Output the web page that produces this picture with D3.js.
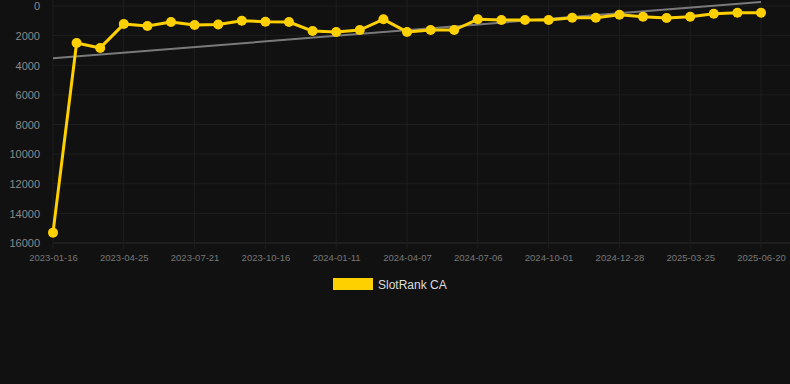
<!DOCTYPE html>
<html>
<head>
<meta charset="utf-8">
<script src="https://cdn.jsdelivr.net/npm/d3@7"></script>
<style>
    html, body { margin: 0; padding: 0; background: #111111; }
    svg { display: block; font-family: "Liberation Sans", Arial, sans-serif; }
</style>
</head>
<body>
<div id="chart"></div>
<script>
// data
var dates = ['2023-01-16', '2023-02-18', '2023-03-22', '2023-04-25', '2023-05-24', '2023-06-22',
    '2023-07-21', '2023-08-19', '2023-09-17', '2023-10-16', '2023-11-14', '2023-12-13',
    '2024-01-11', '2024-02-09', '2024-03-09', '2024-04-07', '2024-05-07', '2024-06-06',
    '2024-07-06', '2024-08-04', '2024-09-02', '2024-10-01', '2024-10-30', '2024-11-28',
    '2024-12-28', '2025-01-26', '2025-02-24', '2025-03-25', '2025-04-20', '2025-05-20',
    '2025-06-20'];
var rankValues = [15300, 2500, 2830, 1220, 1350, 1080, 1280, 1250, 990, 1060, 1080, 1690,
    1750, 1620, 900, 1750, 1620, 1620, 900, 950, 950, 950, 790, 790, 590, 720, 810, 720,
    520, 450, 450];
var trendValues = [3530, -270]; // first and last point of the gray trend line
var yTicks = [0, 2000, 4000, 6000, 8000, 10000, 12000, 14000, 16000];
var seriesName = 'SlotRank CA';

var width = 790, height = 384;
var plotLeft = 53, plotRight = 761, plotTop = 6, plotBottom = 243;

var svg = d3.select('#chart').append('svg').attr('width', width).attr('height', height);

var x = d3.scalePoint().domain(dates).range([plotLeft, plotRight]);
var y = d3.scaleLinear().domain([0, 16000]).range([plotTop, plotBottom]);

var tickDates = dates.filter(function (d, i) { return i % 3 === 0; });

// grid
var grid = svg.append('g');
grid.selectAll('line.h').data(yTicks).enter().append('line')
    .attr('x1', plotLeft).attr('x2', width)
    .attr('y1', function (d) { return y(d); }).attr('y2', function (d) { return y(d); })
    .attr('stroke', function (d) { return d === 16000 ? '#2c2c2c' : '#1e1e1e'; }).attr('stroke-width', 1);
grid.selectAll('line.v').data(tickDates).enter().append('line')
    .attr('x1', function (d) { return x(d); }).attr('x2', function (d) { return x(d); })
    .attr('y1', 0).attr('y2', plotBottom + 6)
    .attr('stroke', '#1e1e1e').attr('stroke-width', 1);

// axes
var yAxis = svg.append('g').attr('transform', 'translate(' + (plotLeft - 10) + ',0)')
    .call(d3.axisLeft(y).tickValues(yTicks).tickSize(0).tickFormat(d3.format('d')));
yAxis.select('.domain').remove();
yAxis.selectAll('text').attr('fill', '#8a8a8a').style('font-size', '11px').attr('dy', '0.35em');

var xAxis = svg.append('g').attr('transform', 'translate(0,' + (plotBottom + 6) + ')')
    .call(d3.axisBottom(x).tickValues(tickDates).tickSize(0));
xAxis.select('.domain').remove();
xAxis.selectAll('text').attr('fill', '#777777').style('font-size', '9.5px').attr('dy', '0.71em').attr('y', 5);

// trend line
svg.append('line')
    .attr('x1', x(dates[0])).attr('y1', y(trendValues[0]))
    .attr('x2', x(dates[dates.length - 1])).attr('y2', y(trendValues[1]))
    .attr('stroke', '#7a7a7a').attr('stroke-width', 2);

// series
var line = d3.line()
    .x(function (d, i) { return x(dates[i]); })
    .y(function (d) { return y(d); });
svg.append('path').datum(rankValues)
    .attr('d', line).attr('fill', 'none')
    .attr('stroke', '#ffd000').attr('stroke-width', 3).attr('stroke-linejoin', 'round');
svg.selectAll('circle.pt').data(rankValues).enter().append('circle')
    .attr('cx', function (d, i) { return x(dates[i]); })
    .attr('cy', function (d) { return y(d); })
    .attr('r', 5).attr('fill', '#ffd000');

// legend
svg.append('rect').attr('x', 333).attr('y', 278).attr('width', 40).attr('height', 12).attr('fill', '#ffd000');
svg.append('text').attr('x', 378).attr('y', 289).text(seriesName)
    .attr('fill', '#dddddd').style('font-size', '12px');
</script>
</body>
</html>
